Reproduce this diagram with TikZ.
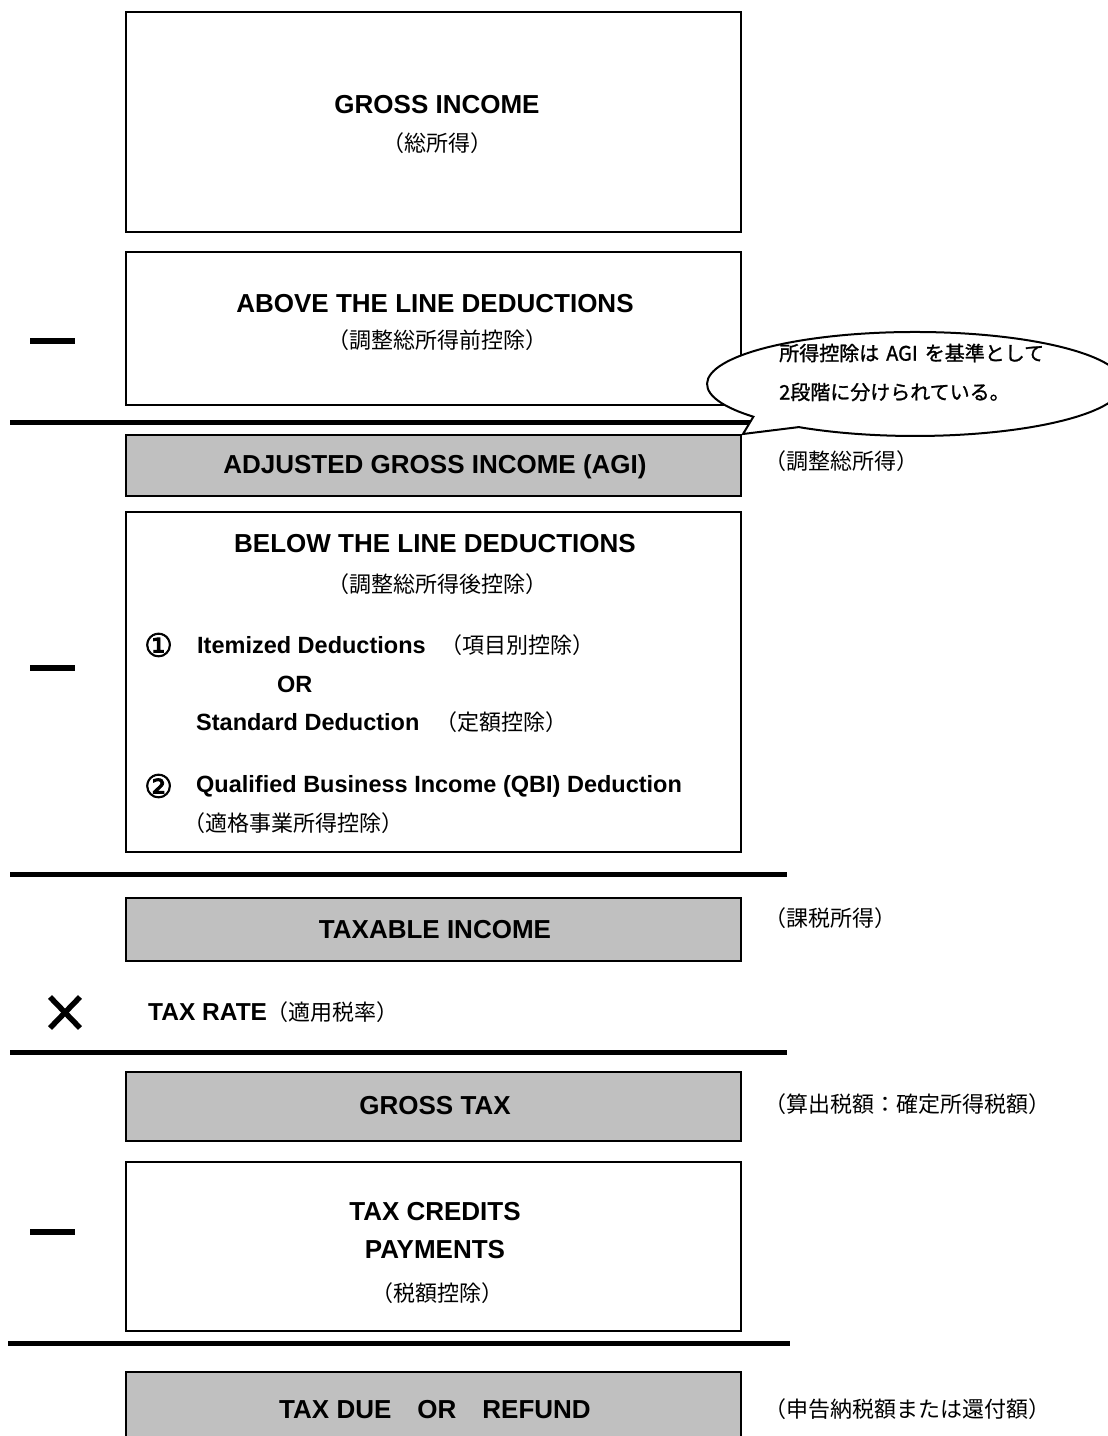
\documentclass[tikz,border=0pt]{standalone}
\usepackage{fontspec}
\setmainfont{Liberation Sans}
\newfontfamily\jp{Noto Sans CJK JP}
\newfontfamily\jpb{Noto Sans CJK JP}[FakeBold=1.2]
\newfontfamily\djv{DejaVu Sans}[FakeBold=2.5]
\definecolor{boxgray}{HTML}{C0C0C0}
\begin{document}
\begin{tikzpicture}[x=1pt,y=-1pt,
  box/.style={draw=black, line width=2.5pt, minimum width=615pt, inner sep=0pt},
  graybox/.style={box, fill=boxgray},
  title/.style={font=\fontsize{26}{30}\selectfont\bfseries, inner sep=0pt},
  item/.style={font=\fontsize{23.5}{28}\selectfont\bfseries, inner sep=0pt, anchor=west},
  circnum/.style={font=\djv\fontsize{32}{34}\selectfont, inner sep=0pt, anchor=west},
  sub/.style={font=\jp\fontsize{22}{26}\selectfont, inner sep=0pt},
  side/.style={sub, anchor=west},
  bubtext/.style={font=\jpb\fontsize{20}{24}\selectfont, inner sep=0pt, anchor=west},
  sepline/.style={line width=5pt},
  minusbar/.style={fill=black, minimum width=45pt, minimum height=6pt, inner sep=0pt},
  timesline/.style={line width=5.5pt},
  bubble/.style={draw=black, fill=white, line width=2pt}
]
\useasboundingbox (0,0) rectangle (1108,1436);

% boxes
\node[box, minimum height=220pt] (gross) at (433.5,122) {};
\node[title] (grossT) at (437,105) {GROSS INCOME};
\node[sub] (grossS) at (437,143) {（総所得）};

\node[box, minimum height=153pt] (above) at (433.5,328.5) {};
\node[title] (aboveT) at (435,304) {ABOVE THE LINE DEDUCTIONS};
\node[sub] (aboveS) at (437,340) {（調整総所得前控除）};
\node[minusbar] (m1) at (52,341) {};

\coordinate (l1a) at (10,422);
\coordinate (l1b) at (787,422);
\draw[sepline] (l1a) -- (l1b);

\node[graybox, minimum height=61pt] (agi) at (433.5,465.5) {};
\node[title] (agiT) at (435,467) {ADJUSTED GROSS INCOME (AGI)};
\node[side] (agiS) at (764,461) {（調整総所得）};

\node[box, minimum height=340pt] (below) at (433.5,682) {};
\node[title] (belowT) at (435,544) {BELOW THE LINE DEDUCTIONS};
\node[sub] (belowS) at (437,584) {（調整総所得後控除）};
\node[circnum] (c1) at (144,645) {①};
\node[item] (itm) at (197,645) {Itemized Deductions};
\node[side] (itmS) at (440,645) {（項目別控除）};
\node[item] (orT) at (277,684) {OR};
\node[item] (std) at (196,722) {Standard Deduction};
\node[side] (stdS) at (435,722) {（定額控除）};
\node[circnum] (c2) at (144,786) {②};
\node[item] (qbi) at (196,786) {Qualified Business Income (QBI) Deduction};
\node[side] (qbiS) at (183,823) {（適格事業所得控除）};
\node[minusbar] (m2) at (52,668) {};

\coordinate (l2a) at (10,874);
\coordinate (l2b) at (787,874);
\draw[sepline] (l2a) -- (l2b);

\node[graybox, minimum height=63pt] (taxable) at (433.5,929.5) {};
\node[title] (taxableT) at (435,930) {TAXABLE INCOME};
\node[side] (taxableS) at (764,918) {（課税所得）};

\coordinate (xa) at (50,997);
\coordinate (xb) at (80,1028);
\coordinate (xc) at (80,997);
\coordinate (xd) at (50,1028);
\draw[timesline] (xa) -- (xb);
\draw[timesline] (xc) -- (xd);
\node[item, font=\fontsize{24.5}{28}\selectfont\bfseries] (rate) at (148,1012) {TAX RATE};
\node[side] (rateS) at (266,1012) {（適用税率）};

\coordinate (l3a) at (10,1052);
\coordinate (l3b) at (787,1052);
\draw[sepline] (l3a) -- (l3b);

\node[graybox, minimum height=69pt] (gtax) at (433.5,1106.5) {};
\node[title] (gtaxT) at (435,1106) {GROSS TAX};
\node[side] (gtaxS) at (764,1104) {（算出税額：確定所得税額）};

\node[box, minimum height=169pt] (credits) at (433.5,1246.5) {};
\node[title] (credT) at (435,1212) {TAX CREDITS};
\node[title] (payT) at (435,1250) {PAYMENTS};
\node[sub] (credS) at (437,1293) {（税額控除）};
\node[minusbar] (m3) at (52,1232) {};

\coordinate (l4a) at (8,1343);
\coordinate (l4b) at (790,1343);
\draw[sepline] (l4a) -- (l4b);

\node[graybox, minimum height=100pt] (due) at (433.5,1422) {};
\node[title] (dueT) at (435,1410) {TAX DUE\hspace{26pt}OR\hspace{26pt}REFUND};
\node[side] (dueS) at (764,1409) {（申告納税額または還付額）};

% callout bubble
\coordinate (tip) at (743,434);
\coordinate (bc) at (915,384);
\draw[bubble] (tip) -- (753.4,416.7) arc[start angle=141, end angle=484, x radius=208, y radius=52] -- cycle;
\node[bubtext] (bub1) at (779,353) {所得控除は\hspace{7pt}AGI\hspace{7pt}を基準として};
\node[bubtext] (bub2) at (779,392) {2段階に分けられている。};
\end{tikzpicture}
\end{document}
